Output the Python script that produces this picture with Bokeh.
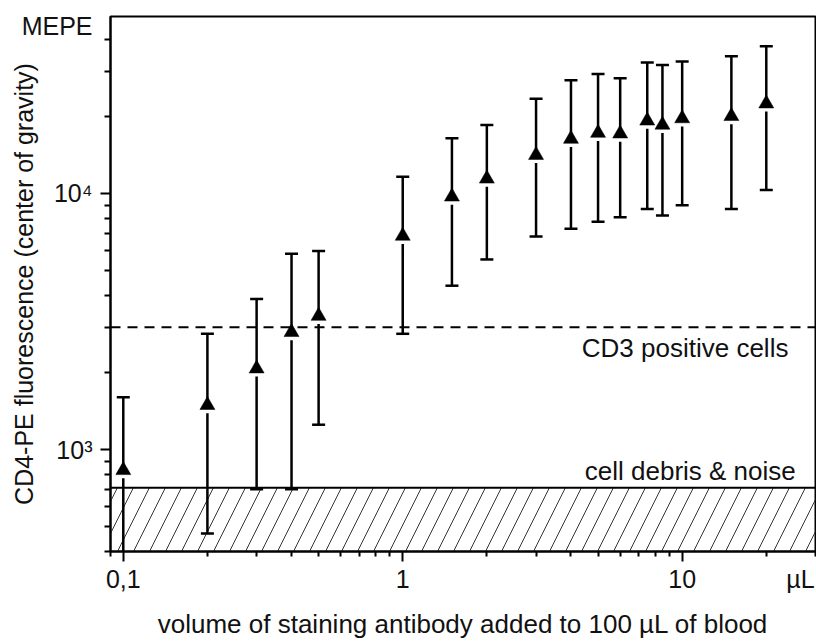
from bokeh.plotting import figure
from bokeh.models import Range1d, FixedTicker, Span, BoxAnnotation, Label, LogAxis
from bokeh.embed import file_html
from bokeh.resources import INLINE

# ---- data ----
volume = [0.1, 0.2, 0.3, 0.4, 0.5, 1, 1.5, 2, 3, 4, 5, 6, 7.5, 8.5, 10, 15, 20]
mean_fl = [830, 1490, 2070, 2870, 3320, 6820, 9700, 11400, 14100, 16300,
           17200, 17100, 19200, 18500, 19600, 20000, 22400]
upper_fl = [1600, 2830, 3870, 5810, 5950, 11600, 16400, 18500, 23400, 27600,
            29200, 28100, 32400, 31700, 32700, 34300, 37500]
lower_fl = [300, 470, 700, 700, 1250, 2830, 4360, 5520, 6790, 7280,
            7750, 8070, 8690, 8190, 8980, 8690, 10300]

CD3_LEVEL = 3000
DEBRIS_LEVEL = 710

X_MIN, X_MAX = 0.09, 30
Y_MIN, Y_MAX = 400, 49000

x_major = [0.1, 1, 10]
x_major_text = ["0,1", "1", "10"]
y_major = [1000, 10000]
y_major_text = ["10\u00b3", "10\u2074"]
x_minor = [m * 10.0 ** e for e in (-2, -1, 0, 1) for m in range(2, 10)]
y_minor = [m * 10.0 ** e for e in (2, 3, 4) for m in range(2, 10)]

# unit captions that sit at the ends of the axes (anchor values on each axis)
UNIT_Y_AT, UNIT_Y_TEXT = 44800, "MEPE"
UNIT_X_AT, UNIT_X_TEXT = 26.5, "\u00b5L"

FONT = "Liberation Sans"
INK = "#111111"

p = figure(width=816, height=641, x_axis_type="log", y_axis_type="log",
           x_axis_location=None, y_axis_location=None,
           x_range=Range1d(X_MIN, X_MAX), y_range=Range1d(Y_MIN, Y_MAX),
           output_backend="svg", toolbar_location=None,
           min_border_left=110, min_border_right=1, min_border_top=16,
           min_border_bottom=90)
p.background_fill_color = "white"
p.border_fill_color = "white"
p.outline_line_color = "black"
p.outline_line_width = 2
p.xgrid.visible = False
p.ygrid.visible = False


def tick_axis(major, minor, minor_len):
    """Axis next to the frame: line and tick marks only."""
    return LogAxis(ticker=FixedTicker(ticks=major, minor_ticks=minor),
                   major_label_overrides={t: "" for t in major},
                   major_label_text_font_size="1px", major_label_standoff=0,
                   axis_line_width=2, axis_line_color="black",
                   major_tick_in=0, major_tick_out=10, minor_tick_in=0, minor_tick_out=minor_len,
                   major_tick_line_width=2, minor_tick_line_width=2,
                   major_tick_line_color="black", minor_tick_line_color="black")


def label_axis(ticks, texts, standoff, title, title_size, title_standoff):
    """Axis outside the tick axis: tick labels, unit caption and axis title only."""
    return LogAxis(ticker=FixedTicker(ticks=ticks, minor_ticks=[]),
                   major_label_overrides=dict(zip(ticks, texts)),
                   axis_line_alpha=0, major_tick_in=0, major_tick_out=0,
                   minor_tick_in=0, minor_tick_out=0,
                   major_tick_line_alpha=0, minor_tick_line_alpha=0,
                   major_label_standoff=standoff,
                   major_label_text_font=FONT, major_label_text_font_size="25px",
                   major_label_text_color=INK,
                   axis_label=title, axis_label_standoff=title_standoff,
                   axis_label_text_font=FONT, axis_label_text_font_size=title_size,
                   axis_label_text_font_style="normal", axis_label_text_color=INK)


p.add_layout(tick_axis(x_major, x_minor, 5), "below")
p.add_layout(label_axis(x_major + [UNIT_X_AT], x_major_text + [UNIT_X_TEXT], 3,
                        "volume of staining antibody added to 100 \u00b5L of blood", "26px", 13),
             "below")
p.add_layout(tick_axis(y_major, y_minor, 6), "left")
p.add_layout(label_axis(y_major + [UNIT_Y_AT], y_major_text + [UNIT_Y_TEXT], 8,
                        "CD4-PE fluorescence (center of gravity)", "25px", -19),
             "left")

# cell debris region (hatched) and CD3 threshold
p.add_layout(BoxAnnotation(top=DEBRIS_LEVEL, fill_alpha=0, hatch_pattern="/",
                           hatch_color="#333333", hatch_weight=1, hatch_scale=32,
                           line_alpha=0, level="underlay"))
p.add_layout(Span(location=DEBRIS_LEVEL, dimension="width", line_color="black",
                  line_width=2, level="underlay"))
p.add_layout(Span(location=CD3_LEVEL, dimension="width", line_color="black",
                  line_width=2, line_dash="10 7", level="underlay"))

# error bars
p.segment(x0=volume, y0=mean_fl, x1=volume, y1=upper_fl, line_color="black", line_width=2.5)
p.segment(x0=volume, y0=mean_fl, x1=volume, y1=lower_fl, line_color="black", line_width=2.5,
          line_dash="0 8 3000")
p.scatter(volume, upper_fl, marker="dash", size=13, line_color="black", line_width=2.5)
p.scatter(volume, lower_fl, marker="dash", size=13, line_color="black", line_width=2.5)
p.scatter(volume, mean_fl, marker="triangle", size=15, fill_color="black",
          line_color="black", line_width=0.5)

# region captions
p.add_layout(Label(x=24, y=CD3_LEVEL, y_offset=-21, text="CD3 positive cells",
                   text_align="right", text_baseline="alphabetic",
                   text_font=FONT, text_font_size="26px", text_color=INK))
p.add_layout(Label(x=25.5, y=DEBRIS_LEVEL, y_offset=17, text="cell debris & noise",
                   text_align="right", text_baseline="alphabetic",
                   text_font=FONT, text_font_size="26px", text_color=INK))

open("out.html", "w").write(file_html(p, INLINE))
